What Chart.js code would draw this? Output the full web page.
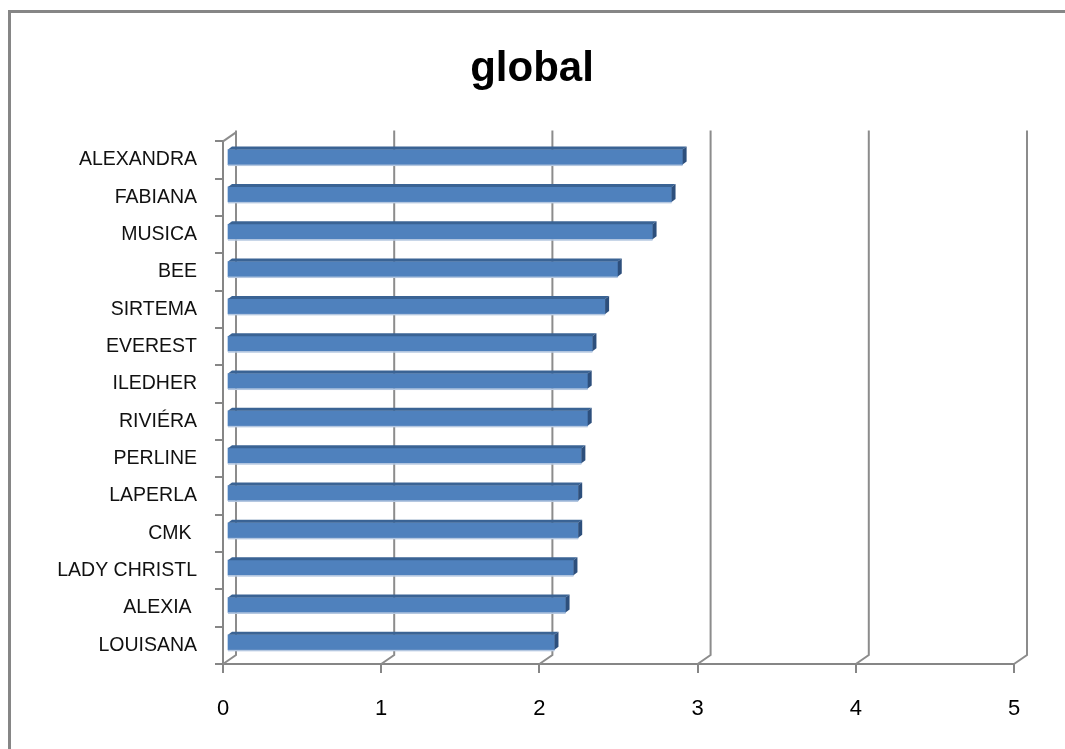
<!DOCTYPE html>
<html>
<head>
<meta charset="utf-8">
<script src="https://cdn.jsdelivr.net/npm/chart.js@4"></script>
<style>
    body { margin: 0; background: #ffffff; }
    #wrap { width: 1065px; height: 749px; }
</style>
</head>
<body>
<div id="wrap"><canvas id="chart1"></canvas></div>
<script>
const categories = ['ALEXANDRA', 'FABIANA', 'MUSICA', 'BEE', 'SIRTEMA', 'EVEREST', 'ILEDHER', 'RIVIÉRA', 'PERLINE', 'LAPERLA', 'CMK ', 'LADY CHRISTL', 'ALEXIA ', 'LOUISANA'];
const globalValues = [2.88, 2.81, 2.69, 2.47, 2.39, 2.31, 2.28, 2.28, 2.24, 2.22, 2.22, 2.19, 2.14, 2.07];
const xTicks = [0, 1, 2, 3, 4, 5];

const axisGrey = '#868686';
const depthX = 13, depthY = 9;   // back wall offset
const barDX = 4, barDY = 3;      // bar depth

// fake Excel 3D look: frame, back wall lines, bar top/side faces
const excel3d = {
    id: 'excel3d',
    beforeDraw(chart) {
        const ctx = chart.ctx;
        ctx.save();
        ctx.strokeStyle = axisGrey;
        ctx.lineWidth = 3;
        ctx.strokeRect(9.5, 11.5, 1200, 900);
        ctx.restore();
    },
    beforeDatasetsDraw(chart) {
        const ctx = chart.ctx;
        const area = chart.chartArea;
        const xs = chart.scales.x;
        ctx.save();
        ctx.strokeStyle = '#8c8c8c';
        ctx.lineWidth = 2;
        xTicks.forEach(v => {
            const px = xs.getPixelForValue(v);
            ctx.beginPath();
            ctx.moveTo(px, area.bottom);
            ctx.lineTo(px + depthX, area.bottom - depthY);
            ctx.lineTo(px + depthX, area.top - depthY - 2);
            ctx.stroke();
        });
        // top-left corner of the side wall
        ctx.beginPath();
        ctx.moveTo(area.left, area.top);
        ctx.lineTo(area.left + depthX, area.top - depthY);
        ctx.stroke();
        ctx.restore();

        ctx.save();
        ctx.translate(barDX, -barDY);
    },
    afterDatasetsDraw(chart) {
        const ctx = chart.ctx;
        const meta = chart.getDatasetMeta(0);
        meta.data.forEach(bar => {
            const p = bar.getProps(['x', 'y', 'base', 'height'], true);
            const top = p.y - p.height / 2;
            const bottom = p.y + p.height / 2;
            // top face
            ctx.fillStyle = '#3a6394';
            ctx.beginPath();
            ctx.moveTo(p.base, top);
            ctx.lineTo(p.x, top);
            ctx.lineTo(p.x + barDX, top - barDY);
            ctx.lineTo(p.base + barDX, top - barDY);
            ctx.closePath();
            ctx.fill();
            // side face
            ctx.fillStyle = '#2d4f7c';
            ctx.beginPath();
            ctx.moveTo(p.x, top);
            ctx.lineTo(p.x + barDX, top - barDY);
            ctx.lineTo(p.x + barDX, bottom - barDY);
            ctx.lineTo(p.x, bottom);
            ctx.closePath();
            ctx.fill();
            // light edge under the bar
            ctx.fillStyle = '#b4c7e0';
            ctx.fillRect(p.base, bottom, p.x - p.base, 1.5);
        });
        ctx.restore();
    }
};

const ctx1 = document.getElementById('chart1').getContext('2d');
new Chart(ctx1, {
    type: 'bar',
    data: {
        labels: categories,
        datasets: [{
            label: 'global',
            data: globalValues,
            backgroundColor: '#4f81bd',
            borderWidth: 0,
            barThickness: 15
        }]
    },
    plugins: [excel3d],
    options: {
        indexAxis: 'y',
        responsive: true,
        maintainAspectRatio: false,
        animation: false,
        layout: {
            padding: { left: 50, right: 51, top: 0, bottom: 0 }
        },
        plugins: {
            legend: { display: false },
            tooltip: { enabled: false },
            title: {
                display: true,
                text: 'global',
                color: '#000000',
                font: { family: 'Liberation Sans', size: 42, weight: 'bold' },
                padding: { top: 44, bottom: 47 }
            }
        },
        scales: {
            x: {
                min: 0,
                max: 5,
                afterFit: (scale) => { scale.height = 85; },
                ticks: {
                    stepSize: 1,
                    color: '#000000',
                    padding: 23,
                    font: { family: 'Liberation Sans', size: 22 }
                },
                grid: {
                    drawOnChartArea: false,
                    drawTicks: true,
                    tickLength: 9,
                    color: axisGrey,
                    lineWidth: 2
                },
                border: { display: true, color: axisGrey, width: 2 }
            },
            y: {
                afterFit: (scale) => { scale.width = 173; },
                ticks: {
                    color: '#111111',
                    padding: 18,
                    font: { family: 'Liberation Sans', size: 19.5 }
                },
                grid: {
                    offset: true,
                    drawOnChartArea: false,
                    drawTicks: true,
                    tickLength: 8,
                    color: axisGrey,
                    lineWidth: 2
                },
                border: { display: true, color: axisGrey, width: 2 }
            }
        }
    }
});
</script>
</body>
</html>
